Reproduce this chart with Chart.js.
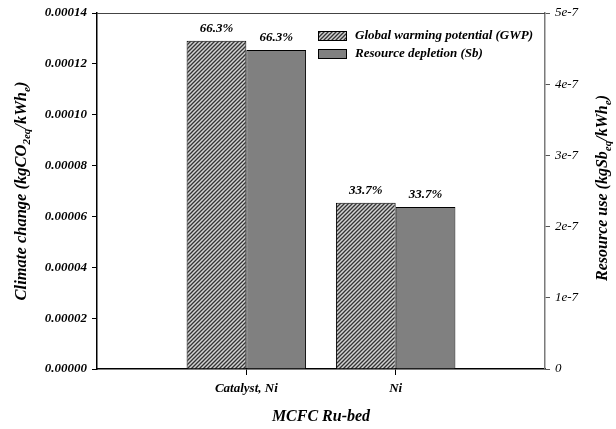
<!DOCTYPE html>
<html>
<head>
<meta charset="utf-8">
<script src="https://cdn.jsdelivr.net/npm/chart.js@4"></script>
<style>
  body { margin: 0; background: #fff; }
  #wrap { width: 616px; height: 429px; }
</style>
</head>
<body>
<div id="wrap"><canvas id="myChart" width="616" height="429"></canvas></div>
<script>
// data
var categories = ['Catalyst, Ni', 'Ni'];
var gwpValues = [0.0001291, 0.0000654];   // kgCO2eq/kWhe, left axis
var rdValues = [4.48e-7, 2.275e-7];       // kgSbeq/kWhe, right axis
var gwpShare = ['66.3%', '33.7%'];
var rdShare = ['66.3%', '33.7%'];
var leftTicks = [0, 0.00002, 0.00004, 0.00006, 0.00008, 0.00010, 0.00012, 0.00014];
var rightTicks = ['0', '1e-7', '2e-7', '3e-7', '4e-7', '5e-7'];

var serif = "'Liberation Serif', 'DejaVu Serif', serif";

// empty slot on both sides so the groups sit at 1/3 and 2/3 of the width
var xLabels = [''].concat(categories, ['']);
var gwpData = [null].concat(gwpValues, [null]);
var rdData = [null].concat(rdValues, [null]);

function hatch() {
  var c = document.createElement('canvas');
  c.width = 4; c.height = 4;
  var g = c.getContext('2d');
  g.fillStyle = '#d2d2d2';
  g.fillRect(0, 0, 4, 4);
  g.strokeStyle = '#333';
  g.lineWidth = 1.3;
  g.beginPath();
  g.moveTo(-1, 5); g.lineTo(5, -1);
  g.moveTo(-3, 3); g.lineTo(3, -3);
  g.moveTo(1, 7); g.lineTo(7, 1);
  g.stroke();
  return g.createPattern(c, 'repeat');
}
var hatchFill = hatch();

function drawSubText(ctx, parts, size) {
  var big = 'italic bold ' + size + 'px ' + serif;
  var small = 'italic bold ' + Math.round(size * 0.68) + 'px ' + serif;
  var total = 0;
  parts.forEach(function (p) {
    ctx.font = p[1] ? small : big;
    total += ctx.measureText(p[0]).width;
  });
  var x = -total / 2;
  ctx.textAlign = 'left';
  ctx.textBaseline = 'middle';
  parts.forEach(function (p) {
    ctx.font = p[1] ? small : big;
    ctx.fillText(p[0], x, p[1] ? size * 0.3 : 0);
    x += ctx.measureText(p[0]).width;
  });
}

var extras = {
  id: 'extras',
  afterDraw: function (chart) {
    var ctx = chart.ctx;
    var a = chart.chartArea;
    ctx.save();
    // top frame line
    ctx.strokeStyle = '#444';
    ctx.lineWidth = 1;
    ctx.beginPath();
    ctx.moveTo(a.left, a.top + 0.5);
    ctx.lineTo(a.right, a.top + 0.5);
    ctx.stroke();

    ctx.fillStyle = '#000';
    // percent labels above bars
    var shares = [gwpShare, rdShare];
    ctx.font = 'italic bold 13px ' + serif;
    ctx.textAlign = 'center';
    ctx.textBaseline = 'middle';
    [0, 1].forEach(function (d) {
      chart.getDatasetMeta(d).data.forEach(function (bar, i) {
        if (i === 0 || i > categories.length) return;
        ctx.fillText(shares[d][i - 1], bar.x, bar.y - 12);
      });
    });

    // legend
    var lx = 318, ly = 31;
    var ds = chart.data.datasets;
    ds.forEach(function (d, i) {
      var y = ly + i * 18;
      ctx.fillStyle = d.backgroundColor;
      ctx.fillRect(lx, y, 29, 10);
      ctx.strokeStyle = '#000';
      ctx.strokeRect(lx + 0.5, y + 0.5, 28, 9);
      ctx.fillStyle = '#000';
      ctx.font = 'italic bold 13px ' + serif;
      ctx.textAlign = 'left';
      ctx.fillText(d.label, lx + 37, y + 5);
    });

    // axis titles
    ctx.save();
    ctx.translate(22, (a.top + a.bottom) / 2);
    ctx.rotate(-Math.PI / 2);
    drawSubText(ctx, [['Climate change (kgCO', 0], ['2eq', 1], ['/kWh', 0], ['e', 1], [')', 0]], 16.5);
    ctx.restore();

    ctx.save();
    ctx.translate(603, (a.top + a.bottom) / 2 - 3);
    ctx.rotate(-Math.PI / 2);
    drawSubText(ctx, [['Resource use (kgSb', 0], ['eq', 1], ['/kWh', 0], ['e', 1], [')', 0]], 16);
    ctx.restore();

    ctx.font = 'italic bold 16px ' + serif;
    ctx.textAlign = 'center';
    ctx.fillText('MCFC Ru-bed', (a.left + a.right) / 2, 417);
    ctx.restore();
  }
};

var ctx = document.getElementById('myChart').getContext('2d');
var myChart = new Chart(ctx, {
  type: 'bar',
  data: {
    labels: xLabels,
    datasets: [{
      label: 'Global warming potential (GWP)',
      data: gwpData,
      yAxisID: 'y',
      backgroundColor: hatchFill,
      borderColor: '#000',
      borderWidth: 1,
      categoryPercentage: 0.8,
      barPercentage: 1
    }, {
      label: 'Resource depletion (Sb)',
      data: rdData,
      yAxisID: 'y1',
      backgroundColor: '#808080',
      borderColor: '#000',
      borderWidth: 1,
      categoryPercentage: 0.8,
      barPercentage: 1
    }]
  },
  options: {
    responsive: false,
    animation: false,
    layout: { padding: { top: 13, left: 0, right: 0, bottom: 0 } },
    plugins: { legend: { display: false }, tooltip: { enabled: false } },
    scales: {
      x: {
        offset: false,
        afterFit: function (s) { s.height = 60; },
        border: { color: '#000', width: 1.5 },
        grid: {
          offset: false,
          drawOnChartArea: false,
          tickLength: 6,
          color: function (c) { return xLabels[c.index] ? '#000' : 'rgba(0,0,0,0)'; }
        },
        ticks: {
          padding: 6,
          maxRotation: 0,
          autoSkip: false,
          color: '#000',
          font: { family: serif, size: 13, style: 'italic', weight: 'bold' }
        }
      },
      y: {
        position: 'left',
        min: 0,
        max: leftTicks[leftTicks.length - 1],
        afterFit: function (s) { s.width = 97; },
        afterBuildTicks: function (s) { s.ticks = leftTicks.map(function (v) { return { value: v }; }); },
        border: { color: '#000', width: 1.5 },
        grid: { drawOnChartArea: false, tickLength: 5, color: '#000' },
        ticks: {
          padding: 5,
          color: '#000',
          font: { family: serif, size: 13, style: 'italic', weight: 'bold' },
          callback: function (v) { return v.toFixed(5); }
        }
      },
      y1: {
        position: 'right',
        min: 0,
        max: 5e-7,
        afterFit: function (s) { s.width = 71; },
        afterBuildTicks: function (s) { s.ticks = rightTicks.map(function (t, i) { return { value: i * 1e-7 }; }); },
        border: { color: '#7a7a7a', width: 1.5 },
        grid: { drawOnChartArea: false, tickLength: 5, color: '#555' },
        ticks: {
          padding: 5,
          color: '#000',
          font: { family: serif, size: 13, style: 'italic' },
          callback: function (v, i) { return rightTicks[i]; }
        }
      }
    }
  },
  plugins: [extras]
});
</script>
</body>
</html>
